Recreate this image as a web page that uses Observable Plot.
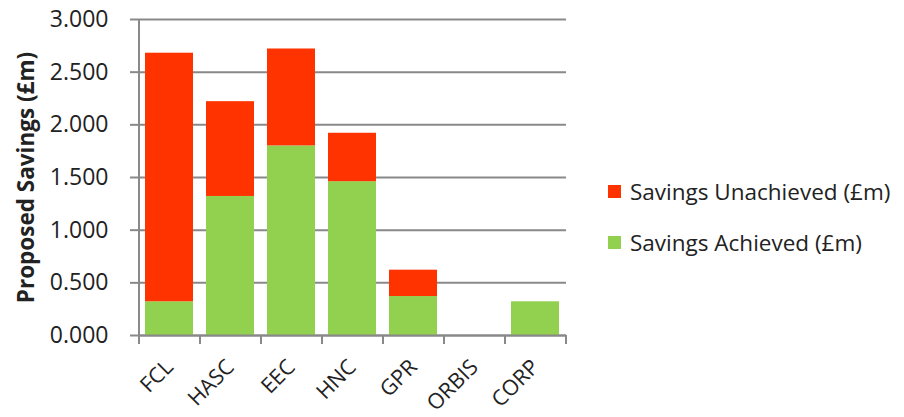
<!DOCTYPE html>
<html>
<head>
<meta charset="utf-8">
<script src="https://cdn.jsdelivr.net/npm/d3@7"></script>
<script src="https://cdn.jsdelivr.net/npm/@observablehq/plot@0.6"></script>
<style>
  body { margin: 0; background: #fff; }
  #wrap { position: relative; width: 904px; height: 417px; font-family: "Open Sans", sans-serif; }
  #legend { position: absolute; left: 608px; top: 0; font-size: 22.5px; color: #222; }
  .item { position: absolute; left: 0; white-space: nowrap; display: flex; align-items: center; }
  .sw { width: 13px; height: 13px; margin-right: 9px; }
</style>
</head>
<body>
<div id="wrap"><div id="legend"></div></div>
<script>
const categories = ["FCL", "HASC", "EEC", "HNC", "GPR", "ORBIS", "CORP"];
const achieved   = [0.32, 1.32, 1.80, 1.46, 0.37, 0.00, 0.32];
const unachieved = [2.36, 0.90, 0.92, 0.46, 0.25, 0.00, 0.00];
const seriesNames = ["Savings Unachieved (£m)", "Savings Achieved (£m)"];
const seriesColors = ["#FF3300", "#92D050"];
const yTicks = [0, 0.5, 1, 1.5, 2, 2.5, 3];

const data = [];
categories.forEach((c, i) => {
  data.push({cat: c, series: seriesNames[1], value: achieved[i]});
  data.push({cat: c, series: seriesNames[0], value: unachieved[i]});
});

const W = 904, H = 417, mL = 139, mR = 338, mT = 19, mB = 82;
const step = (W - mL - mR) / categories.length;
const grid = "#898989";
const fmt = d3.format(".3f");

const chart = Plot.plot({
  width: W, height: H,
  marginLeft: mL, marginRight: mR, marginTop: mT, marginBottom: mB,
  style: {fontFamily: "Open Sans, sans-serif", color: "#222", background: "#fff"},
  x: {domain: categories, paddingInner: 0.21, paddingOuter: 0.105, label: null},
  y: {domain: [0, 3], label: null},
  color: {domain: seriesNames, range: seriesColors},
  marks: [
    Plot.ruleY(yTicks, {stroke: grid, strokeWidth: 2}),
    Plot.barY(data, {x: "cat", y: "value", fill: "series", order: [seriesNames[1], seriesNames[0]]}),
    Plot.ruleY([0], {stroke: grid, strokeWidth: 2}),
    Plot.ruleX([categories[0]], {y1: 3, y2: 0, dx: -step / 2, insetBottom: -9, stroke: grid, strokeWidth: 2}),
    Plot.ruleX(categories, {y1: 0, y2: 0, dx: -step / 2, insetBottom: -9, stroke: grid, strokeWidth: 2}),
    Plot.ruleX([categories[categories.length - 1]], {y1: 0, y2: 0, dx: step / 2, insetBottom: -9, stroke: grid, strokeWidth: 2}),
    Plot.axisY({ticks: yTicks, tickSize: 9, text: null, stroke: grid, strokeWidth: 2, label: null}),
    Plot.text(yTicks, {y: d => d, text: d => fmt(d), frameAnchor: "left", textAnchor: "end", dx: -31, fontSize: 23, fill: "#222"}),
    Plot.axisX({tickSize: 0, tickPadding: 28, tickRotate: -45, fontSize: 21.5, dx: 0, label: null}),
    Plot.text(["Proposed Savings (£m)"], {frameAnchor: "left", textAnchor: "middle", dx: -113, rotate: -90, fontSize: 22.5, fontWeight: "bold", fill: "#222"})
  ]
});
document.getElementById("wrap").prepend(chart);
chart.style.position = "absolute";
chart.style.left = "0"; chart.style.top = "0";

const legend = d3.select("#legend");
const legendY = [191, 242];
seriesNames.forEach((n, i) => {
  const it = legend.append("div").attr("class", "item").style("top", (legendY[i] - 16) + "px").style("height", "32px");
  it.append("div").attr("class", "sw").style("background", seriesColors[i]);
  it.append("span").text(n);
});
</script>
</body>
</html>
